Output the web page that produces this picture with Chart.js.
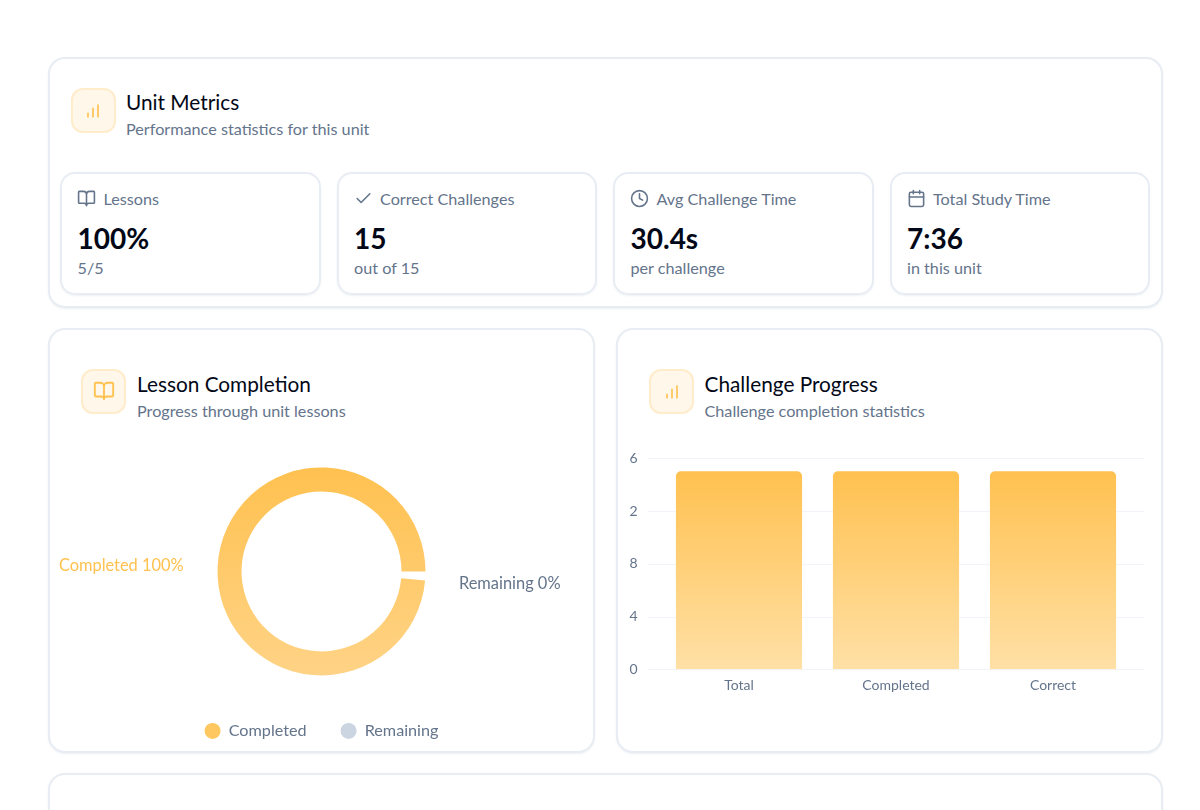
<!DOCTYPE html>
<html>
<head>
<meta charset="utf-8">
<script src="https://cdn.jsdelivr.net/npm/chart.js@4/dist/chart.umd.min.js"></script>
<style>
  *{box-sizing:border-box}
  html,body{margin:0;height:810px;overflow:hidden;background:#fff;font-family:Lato,sans-serif;color:#020817}
  .page{position:relative;width:1200px;height:810px}
  .card{position:absolute;background:#fff;border:2px solid #e8edf3;border-radius:17px;box-shadow:0 1px 2px rgba(148,163,184,.15)}
  .head-icon{position:absolute;width:45px;height:45px;background:#fff7ea;border:2px solid #ffeccb;border-radius:12px;display:flex;align-items:center;justify-content:center}
  .title{position:absolute;font-size:20.8px;font-weight:400;line-height:26px;white-space:nowrap;color:#020817}
  .sub{position:absolute;font-size:16.2px;line-height:20px;color:#64748b;white-space:nowrap}
  .metric{position:absolute;top:112.5px;width:260.5px;height:123px;border:2px solid #e8edf3;border-radius:15px;box-shadow:0 1px 2px rgba(148,163,184,.15)}
  .metric svg{position:absolute;left:15px;top:15.5px}
  .metric .lbl{position:absolute;left:41.5px;top:15px;font-size:16.2px;line-height:20px;color:#64748b;white-space:nowrap}
  .metric .val{position:absolute;left:15.5px;top:46px;font-size:28px;font-weight:700;line-height:36px;color:#020817;white-space:nowrap}
  .metric .note{position:absolute;left:15.5px;top:84px;font-size:16.2px;line-height:20px;color:#64748b;white-space:nowrap}
  .chart-box{position:absolute}
</style>
</head>
<body>
<div class="page">

  <div class="card" style="left:48px;top:57px;width:1115px;height:251px">
    <div class="head-icon" style="left:20.5px;top:28.5px"><svg width="20" height="20" viewBox="0 0 24 24" fill="none" stroke="#ffc14f" stroke-width="2" stroke-linecap="round"><path d="M18 20V6M12 20V10M6 20v-4"/></svg></div>
    <div class="title" style="left:76px;top:30px">Unit Metrics</div>
    <div class="sub" style="left:76px;top:59.5px">Performance statistics for this unit</div>

    <div class="metric" style="left:10px">
      <svg width="19" height="19" viewBox="0 0 24 24" fill="none" stroke="#64748b" stroke-width="2" stroke-linecap="round" stroke-linejoin="round"><path d="M12 7v14M3 18a1 1 0 0 1-1-1V4a1 1 0 0 1 1-1h5a4 4 0 0 1 4 4 4 4 0 0 1 4-4h5a1 1 0 0 1 1 1v13a1 1 0 0 1-1 1h-6a3 3 0 0 0-3 3 3 3 0 0 0-3-3z"/></svg>
      <div class="lbl">Lessons</div><div class="val">100%</div><div class="note">5/5</div>
    </div>
    <div class="metric" style="left:286.5px">
      <svg width="19" height="19" viewBox="0 0 24 24" fill="none" stroke="#64748b" stroke-width="2" stroke-linecap="round" stroke-linejoin="round"><path d="M20 6 9 17l-5-5"/></svg>
      <div class="lbl">Correct Challenges</div><div class="val">15</div><div class="note">out of 15</div>
    </div>
    <div class="metric" style="left:563px">
      <svg width="19" height="19" viewBox="0 0 24 24" fill="none" stroke="#64748b" stroke-width="2" stroke-linecap="round" stroke-linejoin="round"><circle cx="12" cy="12" r="10"/><path d="M12 6v6l4 2"/></svg>
      <div class="lbl">Avg Challenge Time</div><div class="val">30.4s</div><div class="note">per challenge</div>
    </div>
    <div class="metric" style="left:839.5px">
      <svg width="19" height="19" viewBox="0 0 24 24" fill="none" stroke="#64748b" stroke-width="2" stroke-linecap="round" stroke-linejoin="round"><path d="M8 2v4M16 2v4"/><rect x="3" y="4" width="18" height="18" rx="2"/><path d="M3 10h18"/></svg>
      <div class="lbl">Total Study Time</div><div class="val">7:36</div><div class="note">in this unit</div>
    </div>
  </div>

  <div class="card" style="left:48px;top:328px;width:547px;height:424.5px">
    <div class="head-icon" style="left:31px;top:38.5px"><svg width="22" height="22" viewBox="0 0 24 24" fill="none" stroke="#ffc14f" stroke-width="2" stroke-linecap="round" stroke-linejoin="round"><path d="M12 7v14M3 18a1 1 0 0 1-1-1V4a1 1 0 0 1 1-1h5a4 4 0 0 1 4 4 4 4 0 0 1 4-4h5a1 1 0 0 1 1 1v13a1 1 0 0 1-1 1h-6a3 3 0 0 0-3 3 3 3 0 0 0-3-3z"/></svg></div>
    <div class="title" style="left:87px;top:41px">Lesson Completion</div>
    <div class="sub" style="left:87px;top:70.5px">Progress through unit lessons</div>
  </div>
  <div class="chart-box" style="left:50px;top:434px;width:543px;height:315px"><canvas id="chart-lessons"></canvas></div>

  <div class="card" style="left:615.5px;top:328px;width:547.5px;height:424.5px">
    <div class="head-icon" style="left:31.5px;top:38.5px"><svg width="20" height="20" viewBox="0 0 24 24" fill="none" stroke="#ffc14f" stroke-width="2" stroke-linecap="round"><path d="M18 20V6M12 20V10M6 20v-4"/></svg></div>
    <div class="title" style="left:87px;top:41px">Challenge Progress</div>
    <div class="sub" style="left:87px;top:70.5px">Challenge completion statistics</div>
  </div>
  <div class="chart-box" style="left:625px;top:435px;width:530px;height:259px"><canvas id="chart-challenges"></canvas></div>

  <div class="card" style="left:48px;top:773px;width:1115px;height:120px"></div>
</div>

<script>
// donut data
const lessonLabels = ['Remaining','Completed'];
const lessonValues = [0,100];
const LESSON_COLORS = ['#cbd5e1','#ffc75f'];

// bar data
const challengeLabels = ['Total','Completed','Correct'];
const challengeValues = [15,15,15];
const yTickValues = [0,4,8,12,16];
// first digit of 12 and 16 is cut off in the reference
const yTickLabels = ['0','4','8','2','6'];

const FONT = 'Lato, sans-serif';
const MUTED = '#64748b';

function amberGradient(ctx, top, bottom, from, to){
  const g = ctx.createLinearGradient(0,top,0,bottom);
  g.addColorStop(0,from);
  g.addColorStop(1,to);
  return g;
}

// label next to each slice, at its middle angle
const sliceLabels = {
  id:'sliceLabels',
  afterDatasetsDraw(chart){
    const {ctx} = chart;
    const meta = chart.getDatasetMeta(0);
    ctx.save();
    ctx.font = '16.4px '+FONT;
    ctx.textBaseline = 'middle';
    meta.data.forEach((arc,i)=>{
      const mid = (arc.startAngle+arc.endAngle)/2;
      const x = arc.x+138*Math.cos(mid);
      const y = arc.y+138*Math.sin(mid);
      ctx.textAlign = Math.cos(mid)<0 ? 'right' : 'left';
      ctx.fillStyle = i===1 ? '#ffc14f' : MUTED;
      ctx.fillText(lessonLabels[i]+' '+lessonValues[i]+'%',x,y);
    });
    ctx.restore();
  }
};

new Chart(document.getElementById('chart-lessons'),{
  type:'doughnut',
  data:{
    labels:lessonLabels,
    datasets:[{
      data:lessonValues,
      borderWidth:0,
      backgroundColor(c){
        if(c.dataIndex===0) return LESSON_COLORS[0];
        const area = c.chart.chartArea;
        if(!area) return LESSON_COLORS[1];
        const mid = (area.top+area.bottom)/2;
        return amberGradient(c.chart.ctx,mid-104,mid+104,'#ffc150','#ffd386');
      }
    }]
  },
  options:{
    responsive:true,
    maintainAspectRatio:false,
    animation:false,
    rotation:95,
    circumference:355,
    radius:104,
    cutout:'76.9%',
    layout:{padding:{top:20}},
    plugins:{
      tooltip:{enabled:false},
      legend:{
        position:'bottom',
        reverse:true,
        labels:{
          usePointStyle:true,
          pointStyle:'circle',
          pointStyleWidth:16,
          boxHeight:11.3,
          padding:34,
          color:MUTED,
          font:{family:FONT,size:16.2},
          generateLabels(chart){
            return lessonLabels.map((t,i)=>({text:t,fillStyle:LESSON_COLORS[i],strokeStyle:LESSON_COLORS[i],lineWidth:0,pointStyle:'circle',fontColor:MUTED,index:i}));
          }
        }
      }
    }
  },
  plugins:[sliceLabels]
});

// grid runs a little past the plot on both sides
const wideGrid = {
  id:'wideGrid',
  beforeDatasetsDraw(chart){
    const {ctx,chartArea,scales:{y}} = chart;
    ctx.save();
    ctx.strokeStyle = '#f1f5f9';
    ctx.lineWidth = 1;
    yTickValues.forEach(v=>{
      const py = Math.round(y.getPixelForValue(v))+.5;
      ctx.beginPath();
      ctx.moveTo(chartArea.left-13,py);
      ctx.lineTo(chartArea.right+13,py);
      ctx.stroke();
    });
    ctx.restore();
  }
};

new Chart(document.getElementById('chart-challenges'),{
  type:'bar',
  data:{
    labels:challengeLabels,
    datasets:[{
      data:challengeValues,
      barThickness:125.5,
      borderRadius:{topLeft:5,topRight:5},
      borderSkipped:'bottom',
      backgroundColor(c){
        const y = c.chart.scales.y;
        if(!c.chart.chartArea) return LESSON_COLORS[1];
        return amberGradient(c.chart.ctx,y.getPixelForValue(15),y.getPixelForValue(0),'#ffc150','#ffe0a6');
      }
    }]
  },
  options:{
    responsive:true,
    maintainAspectRatio:false,
    animation:false,
    layout:{padding:{right:23.5}},
    plugins:{legend:{display:false},tooltip:{enabled:false}},
    scales:{
      x:{
        grid:{display:false},
        border:{display:false},
        ticks:{color:MUTED,font:{family:FONT,size:14},padding:0,maxRotation:0}
      },
      y:{
        min:0,max:16,
        grid:{display:false},
        border:{display:false},
        afterFit(s){ s.width = 35.5; },
        afterBuildTicks(s){ s.ticks = yTickValues.map(v=>({value:v})); },
        ticks:{
          color:MUTED,
          font:{family:FONT,size:14},
          padding:15,
          callback:(v)=>yTickLabels[yTickValues.indexOf(v)]
        }
      }
    }
  },
  plugins:[wideGrid]
});
</script>
</body>
</html>
